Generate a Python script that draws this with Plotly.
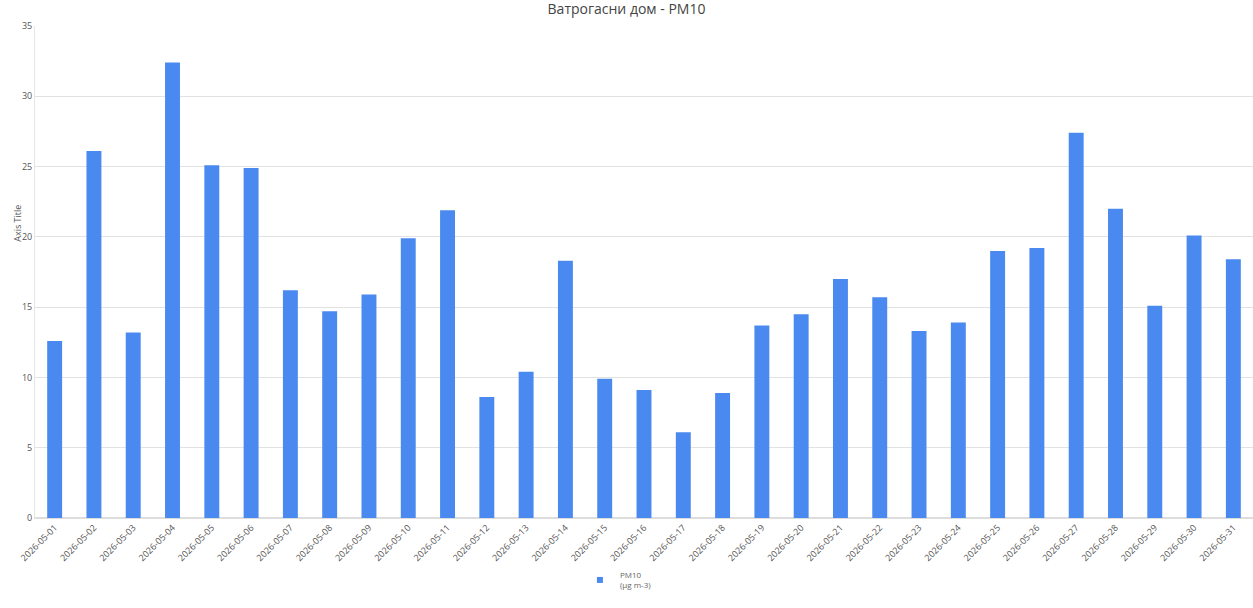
import plotly.graph_objects as go

dates = [f"2026-05-{d:02d}" for d in range(1, 32)]
pm10 = [12.6, 26.1, 13.2, 32.4, 25.1, 24.9, 16.2, 14.7, 15.9, 19.9, 21.9,
        8.6, 10.4, 18.3, 9.9, 9.1, 6.1, 8.9, 13.7, 14.5, 17.0, 15.7, 13.3,
        13.9, 19.0, 19.2, 27.4, 22.0, 15.1, 20.1, 18.4]
y_ticks = [0, 5, 10, 15, 20, 25, 30, 35]
series_name = "PM10<br>(μg m-3)"
bar_color = "#4a8af0"

fig = go.Figure()
fig.add_trace(go.Bar(
    x=dates, y=pm10, name=series_name, showlegend=False,
    marker=dict(color=bar_color, line=dict(width=0)),
))
# legend entry with a small square symbol, as in the reference
fig.add_trace(go.Scatter(
    x=[None], y=[None], mode="markers", name=series_name,
    marker=dict(symbol="square", size=6, color=bar_color),
))

fig.update_layout(
    width=1253, height=608,
    paper_bgcolor="white", plot_bgcolor="white",
    margin=dict(l=35, r=0, t=26, b=90),
    bargap=0.62,
    title=dict(text="Ватрогасни дом - PM10", x=0.5, xanchor="center",
               yref="container", y=0.985, yanchor="middle",
               font=dict(family="Open Sans", size=14, color="#444")),
    font=dict(family="Open Sans", color="#555"),
    showlegend=True,
    legend=dict(orientation="h", x=0.479, xanchor="center",
                yref="container", y=0.046, yanchor="middle",
                font=dict(size=8, color="#666"),
                itemwidth=30),
    xaxis=dict(type="category", range=[-0.5, 30.5], tickangle=-45,
               tickfont=dict(size=9, color="#555"), showgrid=False,
               showline=True, linecolor="#ddd", linewidth=1, ticks=""),
    yaxis=dict(range=[0, 35], tickvals=y_ticks, tickfont=dict(size=9, color="#555"),
               showgrid=True, gridcolor="#e2e2e2", gridwidth=1,
               zeroline=True, zerolinecolor="#ddd",
               showline=True, linecolor="#e6e6e6", linewidth=1),
    annotations=[dict(text="Axis Title", textangle=-90, showarrow=False,
                      xref="paper", x=-0.014, xanchor="center",
                      yref="paper", y=0.6, yanchor="middle",
                      font=dict(size=9, color="#555"))],
)

fig.write_html("out.html", config={"displayModeBar": False},
               post_script="document.body.style.margin='0';document.body.style.overflow='hidden';")
